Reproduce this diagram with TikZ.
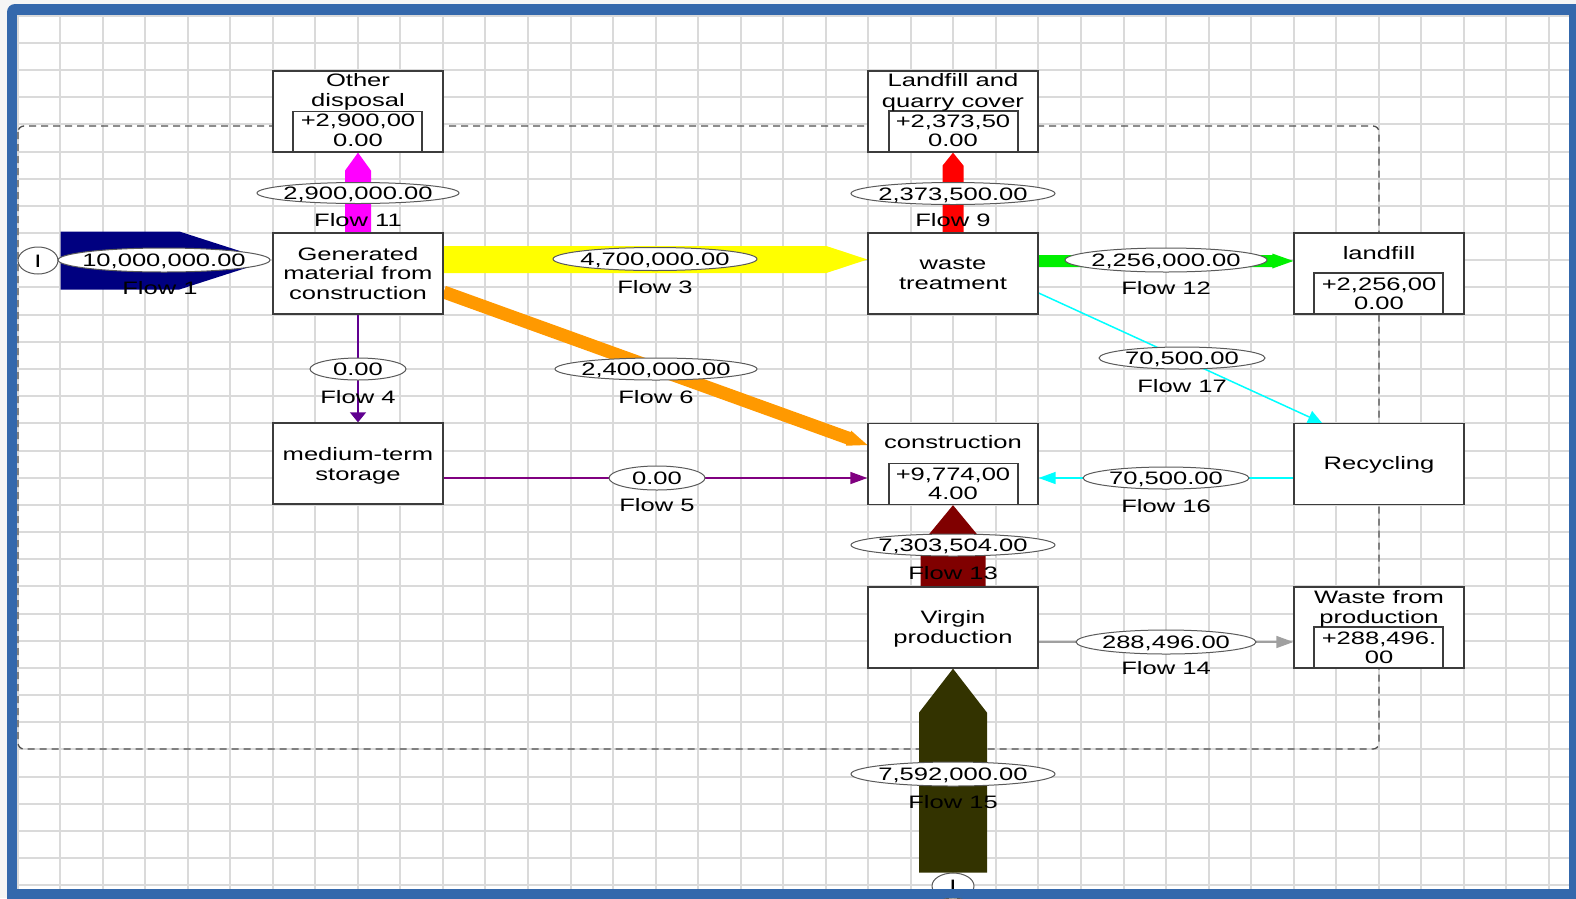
\documentclass[tikz,border=0pt]{standalone}
\usepackage{fontspec}
\setmainfont{Liberation Sans}[FakeStretch=1.42]
\usetikzlibrary{arrows.meta,shapes.geometric,calc}
\definecolor{frameblue}{RGB}{52,104,172}
\definecolor{gridgray}{RGB}{218,218,218}
\definecolor{boxgray}{RGB}{60,60,60}
\definecolor{ellgray}{RGB}{90,90,90}
\definecolor{dashgray}{RGB}{80,80,80}
\definecolor{fnavy}{RGB}{0,0,128}
\definecolor{fmagenta}{RGB}{255,0,255}
\definecolor{fyellow}{RGB}{255,255,0}
\definecolor{fred}{RGB}{255,0,0}
\definecolor{fgreen}{RGB}{0,240,0}
\definecolor{forange}{RGB}{255,153,0}
\definecolor{fdarkred}{RGB}{128,0,0}
\definecolor{folive}{RGB}{51,51,0}
\definecolor{fcyan}{RGB}{0,255,255}
\definecolor{fpurplea}{RGB}{96,0,144}
\definecolor{fpurpleb}{RGB}{128,0,128}
\definecolor{fgray}{RGB}{160,160,160}
\newcommand{\fs}{\fontsize{18}{20}\selectfont}
% #1 colour, #2 start, #3 tip, #4 body half width, #5 head half width, #6 head length
\newcommand{\upflow}[6]{%
  \fill[#1] ([xshift=-#4]#2) -- ([xshift=-#4,yshift=-#6]#3) -- ([xshift=-#5,yshift=-#6]#3) -- (#3)
    -- ([xshift=#5,yshift=-#6]#3) -- ([xshift=#4,yshift=-#6]#3) -- ([xshift=#4]#2) -- cycle;}
\newcommand{\rightflow}[6]{%
  \fill[#1] ([yshift=#4]#2) -- ([xshift=-#6,yshift=#4]#3) -- ([xshift=-#6,yshift=#5]#3) -- (#3)
    -- ([xshift=-#6,yshift=-#5]#3) -- ([xshift=-#6,yshift=-#4]#3) -- ([yshift=-#4]#2) -- cycle;}
\begin{document}
\begin{tikzpicture}[x=1pt,y=-1pt,
  box/.style={draw=boxgray, line width=1.3pt, fill=white, minimum width=170pt, minimum height=81pt, inner sep=0pt},
  inbox/.style={draw=boxgray, line width=1.2pt, minimum width=129pt, minimum height=41pt, inner sep=0pt},
  txt/.style={inner sep=0pt, text height=13pt, text depth=0pt, font=\fs},
  lbl/.style={ellipse, draw=ellgray, line width=1pt, fill=white, inner sep=0pt, text height=13pt, text depth=0pt, font=\fs},
  thin/.style={line width=1.5pt},
  gridline/.style={draw=gridgray, line width=2pt},
  sysline/.style={draw=dashgray, line width=1.3pt, dash pattern=on 7pt off 5pt, rounded corners=6pt}
]
\useasboundingbox (0,0) rectangle (1576,898);
% background and frame
\fill[gray!8] (0,0) rectangle (1576,898);
\fill[frameblue, rounded corners=8pt] (7,4) rectangle (1600,920);
\fill[white] (17,15) rectangle (1569,889);
% grid
\foreach \i in {0,...,36} {\pgfmathsetmacro{\gx}{round(17.5+42.54*\i)}\draw[gridline] (\gx,15) -- (\gx,889);}
\foreach \j in {0,...,32} {\pgfmathsetmacro{\gy}{round(15.8+27.17*\j)}\draw[gridline] (17,\gy) -- (1569,\gy);}
% system boundary
\draw[sysline] (18,126) rectangle (1379,749);

% boxes (positions)
\node[box] (od) at (358,111.5) {};
\node[box] (gm) at (358,273.5) {};
\node[box] (lq) at (953,111.5) {};
\node[box] (wt) at (953,273.5) {};
\node[box] (lf) at (1379,273.5) {};
\node[box] (ms) at (358,463.5) {};
\node[box] (co) at (953,464) {};
\node[box] (re) at (1379,464) {};
\node[box] (vp) at (953,627.5) {};
\node[box] (wp) at (1379,627.5) {};
\node[lbl, minimum width=40pt, minimum height=27pt] (I1) at (38,260.5) {\makebox[0pt]{I}};
\node[lbl, minimum width=42pt, minimum height=26pt] (I2) at (953,886) {\makebox[0pt]{I}};

% thick flows
\coordinate (f1s) at ([xshift=2pt]I1.east);
\coordinate (f1t) at ([xshift=-3pt,yshift=13pt]gm.west);
\rightflow{fnavy}{f1s}{f1t}{29pt}{29pt}{90pt}
\coordinate (f3s) at ([yshift=14pt]gm.east);
\coordinate (f3t) at ([yshift=14pt]wt.west);
\rightflow{fyellow}{f3s}{f3t}{13.5pt}{13.5pt}{41pt}
\coordinate (f12s) at ([yshift=12.5pt]wt.east);
\coordinate (f12t) at ([yshift=12.5pt]lf.west);
\rightflow{fgreen}{f12s}{f12t}{6pt}{7.5pt}{21pt}
\upflow{fmagenta}{gm.north}{od.south}{13pt}{13pt}{18pt}
\upflow{fred}{wt.north}{lq.south}{10.5pt}{10.5pt}{13pt}
\upflow{fdarkred}{vp.north}{co.south}{32.5pt}{33pt}{40pt}
\upflow{folive}{I2.north}{vp.south}{34pt}{34pt}{44pt}
\coordinate (f6s) at ([yshift=-18.5pt]gm.east);
\coordinate (f6t) at ([yshift=19pt]co.west);
\fill[forange] ([xshift=2.2pt,yshift=6.1pt]f6s) -- ([xshift=-16.6pt,yshift=12.9pt]f6t)
  -- ([xshift=-16.1pt,yshift=14.3pt]f6t) -- (f6t) -- ([xshift=-21.5pt,yshift=-0.7pt]f6t)
  -- ([xshift=-21pt,yshift=0.7pt]f6t) -- ([xshift=-2.2pt,yshift=-6.1pt]f6s) -- cycle;

% thin flows
\draw[thin, fpurplea, -{Triangle[length=10pt,width=16pt]}] (gm.south) -- (ms.north);
\draw[thin, fpurpleb, -{Triangle[length=17pt,width=12pt]}] ([yshift=-14.5pt]ms.east) -- ([yshift=-14pt]co.west);
\draw[thin, fcyan, -{Triangle[length=17pt,width=12pt]}] ([yshift=-14pt]re.west) -- ([yshift=-14pt]co.east);
\draw[thin, fcyan, -{Triangle[length=14pt,width=13pt]}] ([yshift=-19.5pt]wt.east) -- ([xshift=-57pt]re.north);
\draw[thin, fgray, -{Triangle[length=17pt,width=12pt]}] ([yshift=-14.5pt]vp.east) -- ([yshift=-14.5pt]wp.west);

% redraw boxes on top of flows
\node[box] at (od) {};
\node[box] at (gm) {};
\node[box] at (lq) {};
\node[box] at (wt) {};
\node[box] at (lf) {};
\node[box] at (ms) {};
\node[box] at (co) {};
\node[box] at (re) {};
\node[box] at (vp) {};
\node[box] at (wp) {};
\node[inbox] (odv) at (357.5,132) {};
\node[inbox] (lqv) at (953.5,131.5) {};
\node[inbox] (lfv) at (1378.5,293.5) {};
\node[inbox] (cov) at (953.5,484) {};
\node[inbox] (wpv) at (1378.5,647.5) {};

% box texts
\node[txt] (od1) at (358,80) {Other};
\node[txt] (od2) at (358,100) {disposal};
\node[txt] (od3) at (358,120) {+2,900,00};
\node[txt] (od4) at (358,140) {0.00};
\node[txt] (gm1) at (358,254) {Generated};
\node[txt] (gm2) at (358,273) {material from};
\node[txt] (gm3) at (358,293) {construction};
\node[txt] (lq1) at (953,80) {Landfill and};
\node[txt] (lq2) at (953,101) {quarry cover};
\node[txt] (lq3) at (953,121) {+2,373,50};
\node[txt] (lq4) at (953,140) {0.00};
\node[txt] (wt1) at (953,263) {waste};
\node[txt] (wt2) at (953,283) {treatment};
\node[txt] (lf1) at (1379,253) {landfill};
\node[txt] (lf2) at (1379,284) {+2,256,00};
\node[txt] (lf3) at (1379,303) {0.00};
\node[txt] (ms1) at (358,454) {medium-term};
\node[txt] (ms2) at (358,474) {storage};
\node[txt] (co1) at (953,442) {construction};
\node[txt] (co2) at (953,474) {+9,774,00};
\node[txt] (co3) at (953,493) {4.00};
\node[txt] (re1) at (1379,463) {Recycling};
\node[txt] (vp1) at (953,617) {Virgin};
\node[txt] (vp2) at (953,637) {production};
\node[txt] (wp1) at (1379,597) {Waste from};
\node[txt] (wp2) at (1379,617) {production};
\node[txt] (wp3) at (1379,638) {+288,496.};
\node[txt] (wp4) at (1379,657) {00};

% flow labels
\node[lbl, minimum width=212pt, minimum height=24pt] (e1) at (164,260) {\makebox[0pt]{10,000,000.00}};
\node[txt] (n1) at (160,288) {Flow 1};
\node[lbl, minimum width=202pt, minimum height=21pt] (e11) at (358,193) {\makebox[0pt]{2,900,000.00}};
\node[txt] (n11) at (358,220) {Flow 11};
\node[lbl, minimum width=204pt, minimum height=23pt] (e3) at (655,259) {\makebox[0pt]{4,700,000.00}};
\node[txt] (n3) at (655,287) {Flow 3};
\node[lbl, minimum width=204pt, minimum height=22pt] (e9) at (953,193.5) {\makebox[0pt]{2,373,500.00}};
\node[txt] (n9) at (953,220) {Flow 9};
\node[lbl, minimum width=202pt, minimum height=24pt] (e12) at (1166,260) {\makebox[0pt]{2,256,000.00}};
\node[txt] (n12) at (1166,288) {Flow 12};
\node[lbl, minimum width=166pt, minimum height=22pt] (e17) at (1182,358) {\makebox[0pt]{70,500.00}};
\node[txt] (n17) at (1182,386) {Flow 17};
\node[lbl, minimum width=96pt, minimum height=22pt] (e4) at (358,369) {\makebox[0pt]{0.00}};
\node[txt] (n4) at (358,397) {Flow 4};
\node[lbl, minimum width=202pt, minimum height=22pt] (e6) at (656,369) {\makebox[0pt]{2,400,000.00}};
\node[txt] (n6) at (656,397) {Flow 6};
\node[lbl, minimum width=96pt, minimum height=24pt] (e5) at (657,478) {\makebox[0pt]{0.00}};
\node[txt] (n5) at (657,505) {Flow 5};
\node[lbl, minimum width=166pt, minimum height=22pt] (e16) at (1166,478) {\makebox[0pt]{70,500.00}};
\node[txt] (n16) at (1166,506) {Flow 16};
\node[lbl, minimum width=204pt, minimum height=22pt] (e13) at (953,545) {\makebox[0pt]{7,303,504.00}};
\node[txt] (n13) at (953,573) {Flow 13};
\node[lbl, minimum width=180pt, minimum height=24pt] (e14) at (1166,642) {\makebox[0pt]{288,496.00}};
\node[txt] (n14) at (1166,668) {Flow 14};
\node[lbl, minimum width=204pt, minimum height=24pt] (e15) at (953,774) {\makebox[0pt]{7,592,000.00}};
\node[txt] (n15) at (953,802) {Flow 15};

% bottom frame edge over the source ellipse
\fill[frameblue] (7,889) rectangle (1576,898);
\end{tikzpicture}
\end{document}
